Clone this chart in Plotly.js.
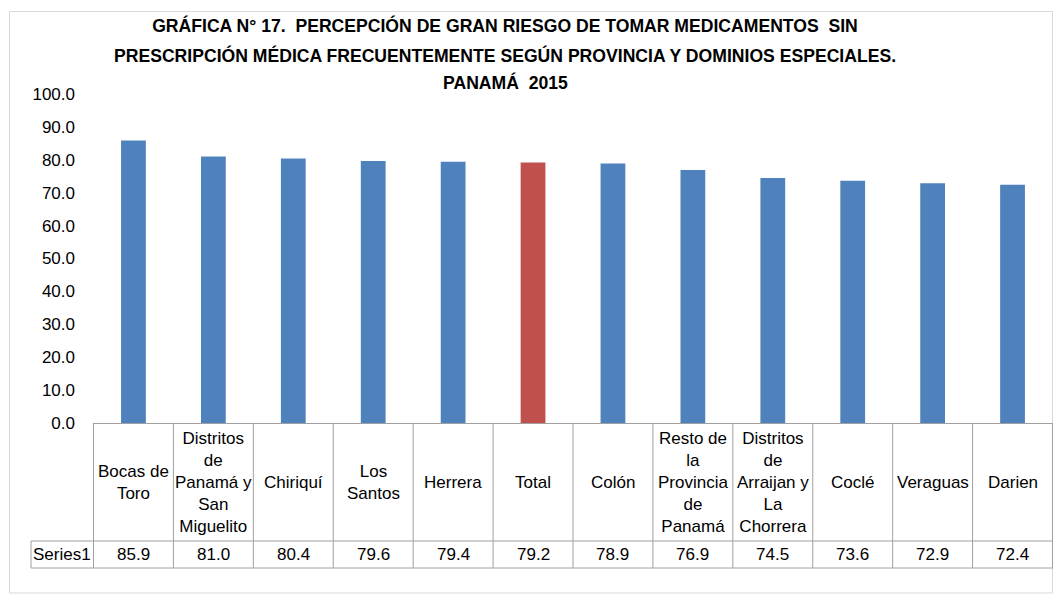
<!DOCTYPE html>
<html>
<head>
<meta charset="utf-8">
<script src="https://cdn.plot.ly/plotly-3.0.1.min.js"></script>
<style>html,body{margin:0;padding:0;background:#fff;}#chart{width:1053px;height:595px;}</style>
</head>
<body>
<div id="chart"></div>
<script>
// ---- data ----
const categories = ["Bocas de Toro", "Distritos de Panamá y San Miguelito", "Chiriquí", "Los Santos", "Herrera", "Total", "Colón", "Resto de la Provincia de Panamá", "Distritos de Arraijan y La Chorrera", "Coclé", "Veraguas", "Darien"];
const headerLabels = ["Bocas de<br>Toro", "Distritos<br>de<br>Panamá y<br>San<br>Miguelito", "Chiriquí", "Los<br>Santos", "Herrera", "Total", "Colón", "Resto de<br>la<br>Provincia<br>de<br>Panamá", "Distritos<br>de<br>Arraijan y<br>La<br>Chorrera", "Coclé", "Veraguas", "Darien"];
const values = [85.9, 81.0, 80.4, 79.6, 79.4, 79.2, 78.9, 76.9, 74.5, 73.6, 72.9, 72.4];
const seriesName = "Series1";
const highlightCategory = "Total";
const titleLines = [
  "GRÁFICA N° 17.  PERCEPCIÓN DE GRAN RIESGO DE TOMAR MEDICAMENTOS  SIN",
  "PRESCRIPCIÓN MÉDICA FRECUENTEMENTE SEGÚN PROVINCIA Y DOMINIOS ESPECIALES.",
  "PANAMÁ  2015"
];

// ---- layout geometry (pixels) ----
const W = 1053, H = 595;
const plotL = 93, plotR = 1053, plotT = 94, plotB = 423;
const pw = plotR - plotL, ph = plotB - plotT;
const px = x => (x - plotL) / pw;      // pixel -> paper x
const py = y => (plotB - y) / ph;      // pixel -> paper y

const headerBottom = 541, valueBottom = 568, tableLeft = 31;
const frameL = 9.5, frameT = 11.5, frameB = 593;
const lineColor = "#a0a0a0";
const FONT = "'Liberation Sans', Arial, sans-serif";
const titleSize = 17.6;

const colors = categories.map(c => c === highlightCategory ? "#C0504D" : "#4F81BD");

const trace = {
  type: "bar",
  x: categories,
  y: values,
  name: seriesName,
  marker: {color: colors},
  hoverinfo: "x+y"
};

const shapes = [];
// frame
shapes.push({type: "rect", xref: "paper", yref: "paper", x0: px(frameL), x1: px(1052.5), y0: py(frameB), y1: py(frameT), line: {color: "#d9d9d9", width: 1}, layer: "below"});
// vertical table lines
for (let k = 0; k <= categories.length; k++) {
  shapes.push({type: "line", xref: "x", yref: "paper", x0: k - 0.5, x1: k - 0.5, y0: 0, y1: py(valueBottom), line: {color: lineColor, width: 1}});
}
// horizontal table lines
shapes.push({type: "line", xref: "paper", yref: "paper", x0: px(tableLeft), x1: 1, y0: py(headerBottom), y1: py(headerBottom), line: {color: lineColor, width: 1}});
shapes.push({type: "line", xref: "paper", yref: "paper", x0: px(tableLeft), x1: 1, y0: py(valueBottom), y1: py(valueBottom), line: {color: lineColor, width: 1}});
shapes.push({type: "line", xref: "paper", yref: "paper", x0: px(tableLeft), x1: px(tableLeft), y0: py(headerBottom), y1: py(valueBottom), line: {color: lineColor, width: 1}});

const annotations = [];
const txtFont = {family: FONT, size: 17, color: "#000"};
categories.forEach((c, i) => {
  annotations.push({xref: "x", yref: "paper", x: c, y: py((plotB + headerBottom) / 2), text: headerLabels[i], showarrow: false, align: "center", xanchor: "center", yanchor: "middle", font: txtFont});
  annotations.push({xref: "x", yref: "paper", x: c, y: py((headerBottom + valueBottom) / 2), text: values[i].toFixed(1), showarrow: false, xanchor: "center", yanchor: "middle", font: txtFont});
});
annotations.push({xref: "paper", yref: "paper", x: px((tableLeft + plotL) / 2), y: py((headerBottom + valueBottom) / 2), text: seriesName, showarrow: false, xanchor: "center", yanchor: "middle", font: txtFont});

const titleY = [25, 55, 82];
titleLines.slice(1).forEach((t, i) => {
  annotations.push({xref: "paper", yref: "paper", x: px(505), y: py(titleY[i + 1]), text: "<b>" + t + "</b>", showarrow: false, xanchor: "center", yanchor: "middle", font: {family: FONT, size: titleSize, color: "#000"}});
});

const layout = {
  width: W, height: H,
  margin: {l: plotL, r: W - plotR, t: plotT, b: H - plotB, pad: 0},
  paper_bgcolor: "#fff", plot_bgcolor: "#fff",
  showlegend: false,
  bargap: 0.69,
  title: {text: "<b>" + titleLines[0] + "</b>", x: px(505), xanchor: "center", xref: "paper", y: 1 - 26 / H, yanchor: "middle",
          font: {family: FONT, size: titleSize, color: "#000"}},
  xaxis: {type: "category", showticklabels: false, ticks: "", showgrid: false, zeroline: false,
          showline: true, linecolor: lineColor, linewidth: 1, fixedrange: true},
  yaxis: {range: [0, 100], dtick: 10, tick0: 0, tickformat: ".1f", showgrid: false, zeroline: false,
          showline: false, ticks: "", ticklabelstandoff: 17, tickfont: {family: FONT, size: 17, color: "#000"}, fixedrange: true},
  shapes: shapes,
  annotations: annotations
};

Plotly.newPlot("chart", [trace], layout, {displayModeBar: false, staticPlot: true});
</script>
</body>
</html>
